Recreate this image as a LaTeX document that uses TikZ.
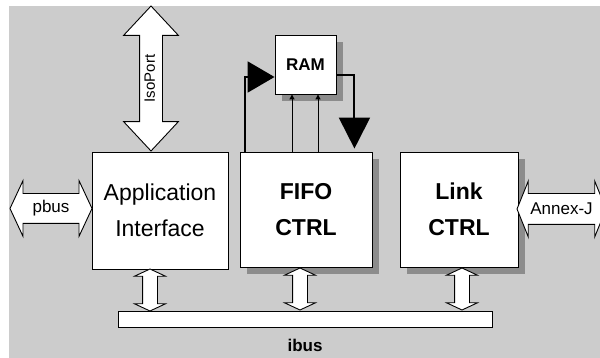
\documentclass[tikz,border=0pt]{standalone}
\usepackage{fontspec}
\setmainfont{Liberation Sans}
\usetikzlibrary{positioning,calc,shapes.arrows,shadows,arrows.meta}

\tikzset{
  block/.style={draw, fill=white, line width=0.9pt, inner sep=0pt, align=center,
    font=\fontsize{23}{36}\selectfont},
  boxshadow/.style={drop shadow={shadow xshift=7pt, shadow yshift=-7pt, fill=black!45, opacity=1}},
  fatarrow/.style={double arrow, draw, fill=white, line width=0.9pt, inner sep=0pt},
  busarrow/.style={fatarrow, rotate=90, inner ysep=7pt, minimum height=42,
    double arrow head extend=8, double arrow tip angle=130},
  feed/.style={line width=2pt},
}

\begin{document}
\begin{tikzpicture}[x=1pt,y=-1pt]
\useasboundingbox (0,0) rectangle (600,358);
\fill[black!20] (9,6) rectangle (600,358);

% blocks:
\node[block, minimum width=136, minimum height=117] (app) at (160,210.5) {Application\\Interface};
\node[block, boxshadow, minimum width=132, minimum height=115, font=\fontsize{23}{36}\selectfont\bfseries] (fifo) at (306,209.5) {FIFO\\CTRL};
\node[block, boxshadow, minimum width=118, minimum height=115, font=\fontsize{23}{36}\selectfont\bfseries] (link) at (459,209.5) {Link\\CTRL};
\node[block, boxshadow, minimum width=61, minimum height=59, font=\fontsize{17}{17}\selectfont\bfseries] (ram) at (305.5,64.5) {RAM};

% ibus:
\node[block, minimum width=374, minimum height=16] (ibus) at (305,319) {};
\node[below=8pt of ibus, font=\fontsize{17}{17}\selectfont\bfseries] (ibuslabel) {ibus};

\foreach \blk/\dx in {app/-10, fifo/-6, link/3}
  \node[busarrow] (\blk bus) at ($(\blk.south)!0.5!(\blk.south |- ibus.north)+(\dx,0)$) {};

% outside ports:
\node[fatarrow, minimum height=82, text height=18.9pt, text depth=10.1pt, double arrow head extend=13,
  double arrow tip angle=130, font=\fontsize{17}{17}\selectfont] (pbus) at (51,208.5) {pbus};
\node[fatarrow, minimum height=89, text height=21pt, text depth=9pt, double arrow head extend=12.5,
  double arrow tip angle=136, font=\fontsize{17}{17}\selectfont] (annex) at (561.5,209) {Annex-J};
\node[fatarrow, rotate=90, minimum height=145, text height=14.8pt, text depth=7.2pt, double arrow head extend=16,
  double arrow tip angle=86, font=\fontsize{15}{15}\selectfont] (iso) at (151,78.5) {IsoPort};

% RAM paths:
\draw[feed, -{Triangle[length=27pt,width=31pt]}] ($(fifo.north west)+(5,0)$) |- ($(ram.west)+(0,12.5)$);
\draw[feed, -{Triangle[length=31pt,width=31pt]}, shorten >=3pt] ($(ram.east)+(0,10.5)$) -| ($(fifo.north east)+(-18,0)$);
\coordinate (up1) at ($(fifo.north)+(-14,0)$);
\coordinate (up2) at ($(fifo.north)+(12,0)$);
\draw[line width=1pt, -{Triangle[length=5pt,width=5pt]}] (up1) -- (up1 |- ram.south);
\draw[line width=1pt, -{Triangle[length=5pt,width=5pt]}] (up2) -- (up2 |- ram.south);

\end{tikzpicture}
\end{document}
